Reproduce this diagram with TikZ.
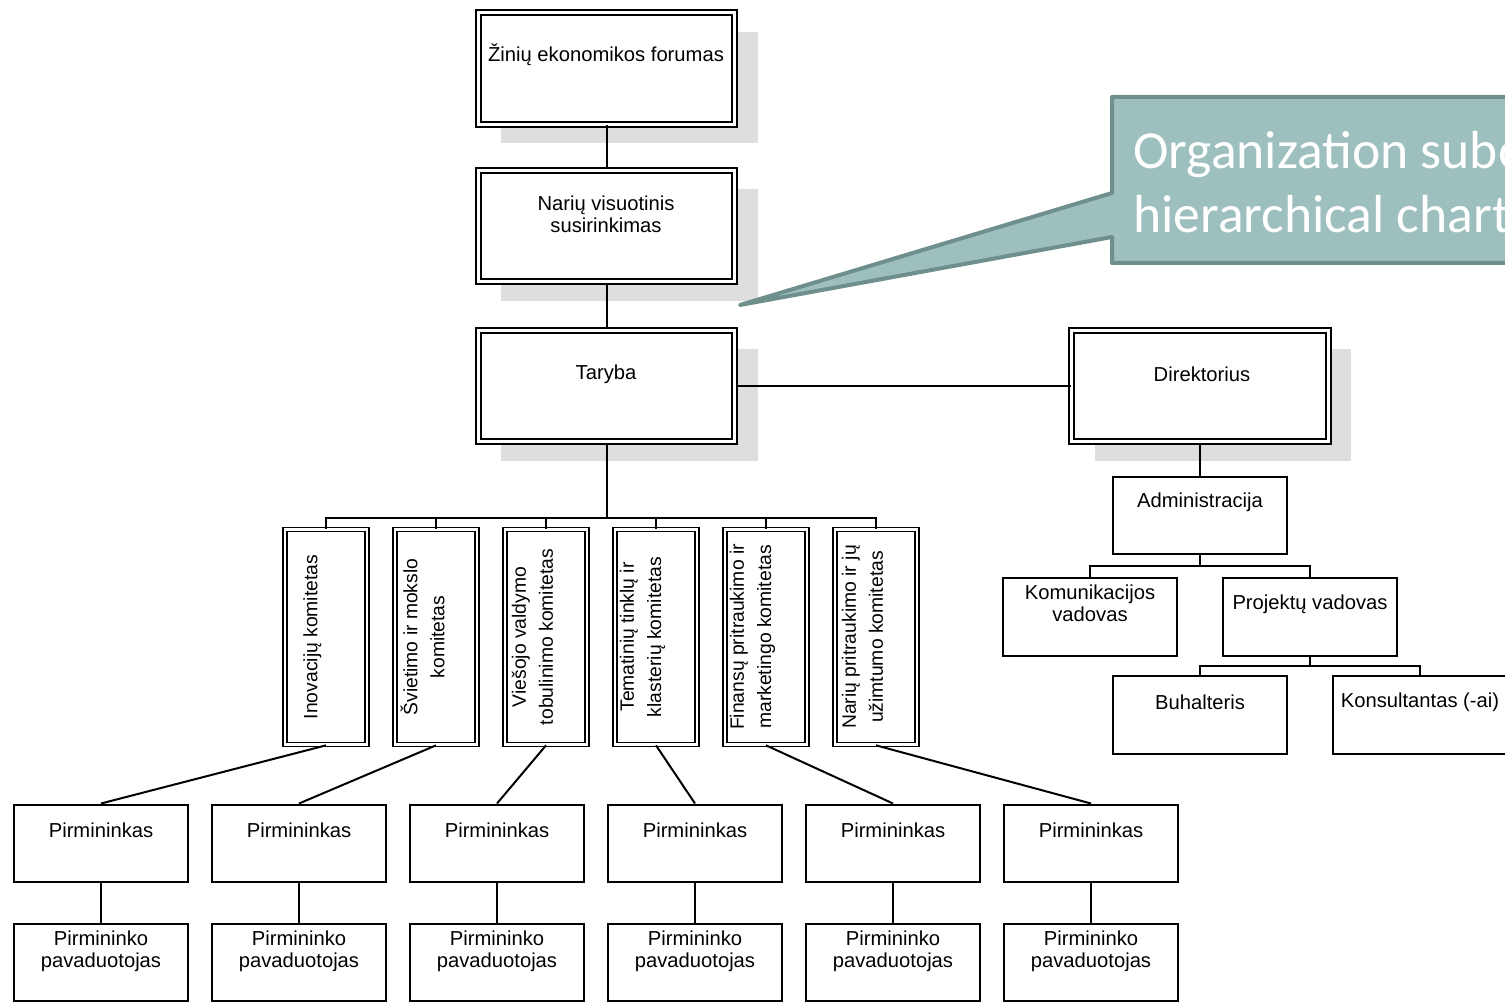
\documentclass[tikz,border=0pt]{standalone}
\usepackage{fontspec}
\setmainfont{Liberation Sans}
\newfontfamily\callfont{Carlito}
\usetikzlibrary{shadows}
\definecolor{calloutfill}{RGB}{157,191,190}
\definecolor{calloutline}{RGB}{111,143,141}
\begin{document}
\begin{tikzpicture}[x=0.02cm,y=-0.02cm,
  bigbox/.style={draw,double,line width=0.04cm,double distance=0.06cm,fill=white,
    minimum width=5.14cm,minimum height=2.24cm,
    drop shadow={shadow xshift=0.46cm,shadow yshift=-0.38cm,fill=black!13,opacity=1}},
  kombox/.style={draw,double,line width=0.035cm,double distance=0.045cm,fill=white,
    minimum width=1.64cm,minimum height=4.3cm},
  smallbox/.style={draw,line width=0.04cm,fill=white,minimum width=3.48cm,minimum height=1.56cm},
  txt/.style={font=\fontsize{11.5}{12.5}\selectfont,align=center,inner sep=0pt},
  komtxt/.style={font=\fontsize{11}{15.4}\selectfont,align=center,inner sep=0pt,rotate=90},
  calltext/.style={font=\callfont\fontsize{30.5}{36}\selectfont,text=white,align=left,inner sep=0pt},
  link/.style={line width=0.04cm}]
\useasboundingbox (0,0) rectangle (1505,1003);
\clip (0,0) rectangle (1505,1003);
% upper chain
\node[bigbox] (forum) at (606.5,68.5) {};
\node[txt] (forumt) at (606,55) {Žinių ekonomikos forumas};
\node[bigbox] (narys) at (606.5,226) {};
\node[txt] (naryst) at (606,214) {Narių visuotinis\\susirinkimas};
\node[bigbox] (taryba) at (606.5,386) {};
\node[txt] (tarybat) at (606,374) {Taryba};
\node[bigbox] (dir) at (1200,386) {};
\node[txt] (dirt) at (1202,374) {Direktorius};
\draw[link] (forum) -- (narys);
\draw[link] (narys) -- (taryba);
\draw[link] (taryba) -- (dir);
% committees
\coordinate (tbar) at (606.5,518);
\draw[link] (taryba.south) -- (tbar);
\foreach \i/\t in {1/{Inovacijų komitetas},2/{Švietimo ir mokslo\\komitetas},
    3/{Viešojo valdymo\\tobulinimo komitetas},4/{Tematinių tinklų ir\\klasterių komitetas},
    5/{Finansų pritraukimo ir\\marketingo komitetas},6/{Narių pritraukimo ir jų\\užimtumo komitetas}} {
  \node[kombox] (kom\i) at (216+110*\i,637) {};
  \node[komtxt] (komt\i) at (202.5+110*\i,637) {\t};
  \draw[link] (tbar) -| (kom\i.north);
}
% chairs and deputies
\foreach \i in {1,...,6} {
  \node[smallbox] (pirm\i) at (-97+198*\i,843.5) {};
  \node[txt] (pirmt\i) at (-97+198*\i,830) {Pirmininkas};
  \node[smallbox] (pav\i) at (-97+198*\i,962.5) {};
  \node[txt] (pavt\i) at (-97+198*\i,951) {Pirmininko\\pavaduotojas};
  \draw[link] (kom\i.south) -- (pirm\i.north);
  \draw[link] (pirm\i.south) -- (pav\i.north);
}
% administration
\node[smallbox] (admin) at (1200,515.5) {};
\node[txt] (admint) at (1200,502) {Administracija};
\node[smallbox] (komun) at (1090,617) {};
\node[txt] (komunt) at (1090,603) {Komunikacijos\\vadovas};
\node[smallbox] (proj) at (1310,617) {};
\node[txt] (projt) at (1310,604) {Projektų vadovas};
\node[smallbox] (buh) at (1200,715) {};
\node[txt] (buht) at (1200,702) {Buhalteris};
\node[smallbox] (kons) at (1420,715) {};
\node[txt] (konst) at (1420,702) {Konsultantas (-ai)};
\coordinate (abar) at (1200,566);
\coordinate (pbar) at (1310,666);
\draw[link] (dir.south) -- (admin.north);
\draw[link] (admin.south) -- (abar) (abar) -| (komun.north) (abar) -| (proj.north);
\draw[link] (proj.south) -- (pbar) (pbar) -| (buh.north) (pbar) -| (kons.north);
% callout
\draw[line width=0.08cm,line join=round,draw=calloutline,fill=calloutfill]
  (1112,97) -- (1560,97) -- (1560,263) -- (1112,263) -- (1112,237) -- (740,305) -- (1112,193) -- cycle;
\node[calltext,anchor=west] (note) at (1133,182) {Organization subo\\hierarchical chart};
\end{tikzpicture}
\end{document}
